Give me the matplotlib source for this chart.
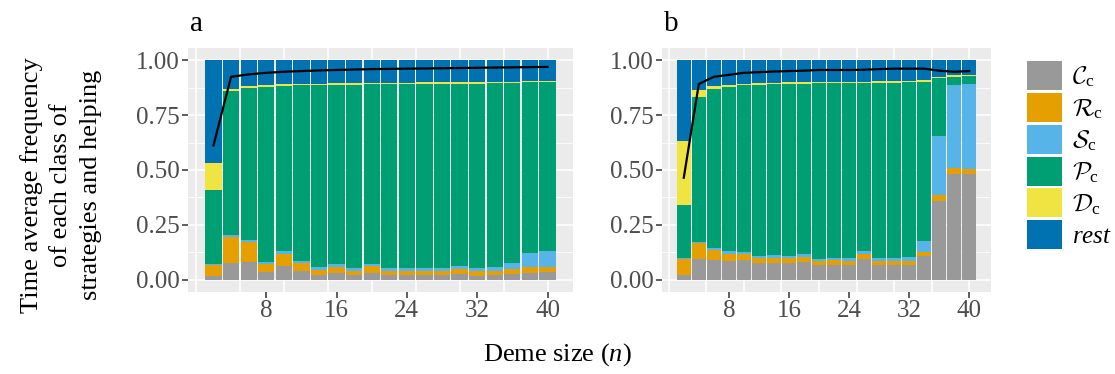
import matplotlib
matplotlib.use("Agg")
import matplotlib.pyplot as plt
from matplotlib.patches import Patch
import numpy as np

plt.rcParams['font.family'] = ['Liberation Serif', 'DejaVu Serif']
plt.rcParams['mathtext.fontset'] = 'custom'
plt.rcParams['mathtext.rm'] = 'Liberation Serif'
plt.rcParams['mathtext.it'] = 'Liberation Serif:italic'
plt.rcParams['mathtext.cal'] = 'cmsy10'

# deme sizes
n = np.arange(2, 41, 2)

# panel a: time average frequency per class (bottom -> top)
a_C = [.020, .076, .082, .036, .064, .039, .021, .030, .021, .030, .021, .021, .021, .021, .027, .018, .021, .027, .030, .036]
a_R = [.048, .118, .091, .037, .054, .037, .024, .028, .018, .034, .018, .018, .018, .018, .021, .021, .018, .021, .028, .022]
a_S = [.005, .011, .009, .009, .014, .010, .014, .015, .014, .009, .014, .014, .014, .014, .016, .014, .020, .028, .063, .074]
a_P = [.336, .654, .691, .795, .750, .800, .827, .815, .833, .819, .839, .839, .838, .838, .827, .838, .836, .821, .781, .770]
a_D = [.123, .009, .009, .009, .010, .005, .005, .006, .009, .005, .003, .003, .009, .009, .009, .009, .005, .003, .003, .003]
a_rest = [.468, .132, .118, .114, .108, .109, .109, .106, .105, .103, .105, .105, .100, .100, .100, .100, .100, .100, .095, .095]
a_help = [0.612, 0.924, 0.935, 0.942, 0.947, 0.950, 0.953, 0.955, 0.957, 0.959,
          0.960, 0.961, 0.962, 0.963, 0.964, 0.965, 0.966, 0.967, 0.968, 0.969]

# panel b
b_C = [.023, .094, .091, .085, .091, .076, .076, .076, .082, .067, .067, .067, .094, .067, .067, .067, .109, .359, .482, .482]
b_R = [.071, .073, .045, .033, .027, .024, .024, .024, .021, .018, .024, .018, .024, .018, .018, .018, .018, .027, .029, .023]
b_S = [.006, .007, .009, .014, .009, .009, .014, .009, .015, .009, .009, .015, .014, .015, .015, .020, .050, .269, .375, .386]
b_P = [.242, .658, .723, .745, .759, .777, .778, .782, .773, .803, .797, .797, .763, .795, .795, .795, .723, .263, .038, .038]
b_D = [.291, .032, .014, .009, .005, .009, .003, .009, .009, .003, .003, .003, .005, .010, .010, .005, .009, .005, .009, .004]
b_rest = [.367, .136, .118, .114, .109, .105, .105, .100, .100, .100, .100, .100, .100, .095, .095, .095, .091, .077, .067, .067]
b_help = [0.465, 0.891, 0.924, 0.933, 0.942, 0.945, 0.948, 0.950, 0.952, 0.955,
          0.955, 0.955, 0.956, 0.959, 0.961, 0.961, 0.961, 0.952, 0.947, 0.950]

colors = ['#999999', '#E69F00', '#56B4E9', '#009E73', '#F0E442', '#0072B2']
labels = [r'$\mathcal{C}_{\mathrm{c}}$', r'$\mathcal{R}_{\mathrm{c}}$', r'$\mathcal{S}_{\mathrm{c}}$',
          r'$\mathcal{P}_{\mathrm{c}}$', r'$\mathcal{D}_{\mathrm{c}}$', r'$\mathit{rest}$']


def draw_panel(ax, stacks, helping, title):
    ax.set_facecolor('#EBEBEB')
    for s in ax.spines.values():
        s.set_visible(False)
    for v in np.arange(0, 1.01, 0.25):
        ax.axhline(v, color='white', lw=1.1, zorder=0.5)
    for v in np.arange(0.125, 1, 0.25):
        ax.axhline(v, color='white', lw=0.6, zorder=0.5)
    for v in range(0, 41, 5):
        ax.axvline(v, color='white', lw=1.1, zorder=0.5)
    bottom = np.zeros(len(n))
    for vals, col in zip(stacks, colors):
        vals = np.array(vals)
        ax.bar(n, vals, width=1.85, bottom=bottom, color=col, linewidth=0, zorder=1)
        bottom += vals
    ax.plot(n, helping, color='black', lw=1.6, zorder=3)
    ax.set_xlim(-0.9, 42.9)
    ax.set_ylim(-0.055, 1.055)
    ax.set_xticks([8, 16, 24, 32, 40])
    ax.set_yticks([0, 0.25, 0.5, 0.75, 1.0])
    ax.set_yticklabels(['0.00', '0.25', '0.50', '0.75', '1.00'])
    ax.tick_params(length=4, width=1.1, color='#333333', labelcolor='#4D4D4D',
                   labelsize=18, pad=2)
    ax.text(0.005, 1.045, title, transform=ax.transAxes, fontsize=21, ha='left', va='bottom')


fig = plt.figure(figsize=(11.15, 3.74), dpi=100)
ax_a = fig.add_axes([188 / 1115, 82 / 374, 385 / 1115, 244 / 374])
ax_b = fig.add_axes([662 / 1115, 82 / 374, 329 / 1115, 244 / 374])

draw_panel(ax_a, [a_C, a_R, a_S, a_P, a_D, a_rest], a_help, 'a')
draw_panel(ax_b, [b_C, b_R, b_S, b_P, b_D, b_rest], b_help, 'b')

fig.text(61 / 1115, 1 - 185 / 374, 'Time average frequency\nof each class of\nstrategies and helping',
         rotation=90, ha='center', va='center', multialignment='center', fontsize=19,
         linespacing=1.42)
fig.text(0.5, 1 - 355 / 374, 'Deme size ($n$)', ha='center', va='center', fontsize=19)

handles = [Patch(facecolor=c, edgecolor='none') for c in colors]
fig.legend(handles, labels, loc='upper left', bbox_to_anchor=(1027 / 1115, 1 - 61 / 374),
           frameon=False, fontsize=18, handlelength=1.4, handleheight=1.4,
           labelspacing=0.12, handletextpad=0.4, borderaxespad=0, borderpad=0)

fig.savefig('out.png', dpi=100)
